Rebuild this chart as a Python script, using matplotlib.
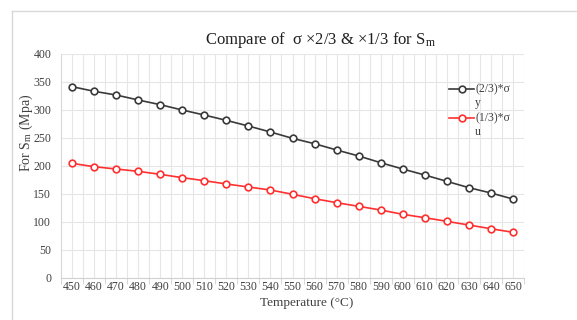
import numpy as np
import matplotlib.pyplot as plt
from matplotlib.lines import Line2D

plt.rcParams['font.family'] = ['Liberation Serif', 'DejaVu Serif']
plt.rcParams['mathtext.fontset'] = 'stix'

temps = [450, 460, 470, 480, 490, 500, 510, 520, 530, 540, 550,
         560, 570, 580, 590, 600, 610, 620, 630, 640, 650]
sy_23 = [341.7, 333.4, 326.8, 317.9, 309.5, 300.0, 291.0, 281.5, 271.4, 260.7, 249.4,
         239.8, 228.6, 217.9, 205.9, 194.6, 183.9, 172.6, 161.3, 151.8, 141.0]
su_13 = [204.7, 198.8, 194.6, 190.5, 185.1, 179.2, 173.8, 167.9, 162.5, 157.1, 149.5,
         141.6, 134.5, 128.0, 121.4, 113.7, 107.7, 101.2, 94.6, 88.0, 81.6]
yticks = [0, 50, 100, 150, 200, 250, 300, 350, 400]

txt = '#404040'
grid = '#e6e6e6'
black = '#3a3a3a'
red = '#ff3030'

fig = plt.figure(figsize=(5.77, 3.2), dpi=100)
ax = fig.add_axes([61/577, 1-278/320, (524-61)/577, (278-54)/320])

x = np.arange(len(temps))
ax.plot(x, sy_23, color=black, lw=1.2, marker='o', ms=4.8,
        mfc='white', mec=black, mew=1.2, zorder=3)
ax.plot(x, su_13, color=red, lw=1.2, marker='o', ms=4.8,
        mfc='white', mec=red, mew=1.2, zorder=3)

ax.set_xlim(-0.5, len(temps) - 0.5)
ax.set_ylim(0, 400)
ax.set_yticks(yticks)
ax.set_xticks(x)
ax.set_xticklabels([str(t) for t in temps])
ax.set_xticks(np.arange(-0.5, len(temps), 1), minor=True)

# grid at category centres and boundaries
for gx in np.arange(-0.5, len(temps), 0.5):
    ax.axvline(gx, color=grid, lw=0.8, zorder=0)
for gy in yticks[1:]:
    ax.axhline(gy, color=grid, lw=0.8, zorder=0)

for s in ['top', 'right']:
    ax.spines[s].set_visible(False)
ax.spines['left'].set_color('#d9d9d9')
ax.spines['bottom'].set_color('#d0d0d0')
ax.tick_params(axis='y', length=0, labelsize=8.5, colors=txt, pad=7)
ax.tick_params(axis='x', which='major', length=0, labelsize=8.5, colors=txt, pad=2)
ax.tick_params(axis='x', which='minor', length=4, color='#d0d0d0')

ax.set_xlabel('Temperature (°C)', fontsize=9.5, color=txt)
ax.xaxis.set_label_coords((307-61)/463, -(297-278)/224)
ax.set_ylabel(r'For S$_\mathregular{m}$ (Mpa)', fontsize=10, color=txt)
ax.yaxis.set_label_coords(-26/463, (278-133)/224)

fig.text(320/577, 1-40/320, r'Compare of  σ ×2/3 & ×1/3 for S$_\mathregular{m}$',
         ha='center', va='center', fontsize=12, color='#202020')

# legend by hand, keeps the wrapped subscript like the original
for ly, c, lab in [(89, black, '(2/3)*σ\ny'), (118, red, '(1/3)*σ\nu')]:
    fig.add_artist(Line2D([449/577, 461.5/577, 474/577], [1-ly/320]*3, color=c, lw=1.2,
                          marker='o', markevery=[1], ms=4.8, mfc='white', mec=c, mew=1.2))
    fig.text(475/577, 1-(ly-6)/320, lab, ha='left', va='top', fontsize=8.5,
             color=txt, linespacing=1.25)

# chart frame
fig.add_artist(Line2D([12/577, 12/577], [0, 1-11/320], color='#d9d9d9', lw=1))
fig.add_artist(Line2D([12/577, 1], [1-11/320, 1-11/320], color='#d9d9d9', lw=1))

fig.savefig('out.png', dpi=100)
